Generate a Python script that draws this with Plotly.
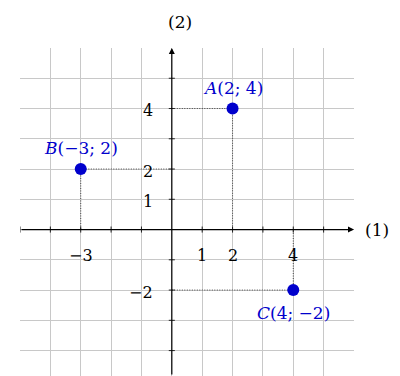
import plotly.graph_objects as go

# points
point_names = ["A", "B", "C"]
point_x = [2, -3, 4]
point_y = [4, 2, -2]

# tick labels drawn next to the axes
x_tick_vals = [-3, 1, 2, 4]
y_tick_vals = [4, 2, 1, -2]

# axis extent
x_min, x_max = -5, 6
y_min, y_max = -4.84, 6
tick_marks = list(range(-5, 6))

BLUE = "#0000CC"
FONT = "DejaVu Serif"


def fmt(v):
    return str(v).replace("-", "\u2212")


fig = go.Figure()

# dotted helper lines from each point to the axes
for px_, py_ in zip(point_x, point_y):
    fig.add_trace(go.Scatter(
        x=[0, px_, px_], y=[py_, py_, 0], mode="lines",
        line=dict(color="#444444", width=1, dash="1px,1.5px"),
        hoverinfo="skip", showlegend=False,
    ))

# small tick marks on both axes
tx, ty = [], []
for t in tick_marks:
    if t == 0:
        continue
    tx += [t, t, None]
    ty += [-0.1, 0.1, None]
    tx += [-0.1, 0.1, None]
    ty += [t, t, None]
fig.add_trace(go.Scatter(
    x=tx, y=ty, mode="lines", line=dict(color="#222222", width=1),
    hoverinfo="skip", showlegend=False,
))

fig.add_trace(go.Scatter(
    x=point_x, y=point_y, mode="markers",
    marker=dict(size=12, color=BLUE),
    hoverinfo="skip", showlegend=False,
))

# axes with arrows
fig.add_annotation(x=x_max, y=0, ax=x_min, ay=0, xref="x", yref="y", axref="x", ayref="y",
                   text="", showarrow=True, arrowhead=2, arrowsize=1, arrowwidth=1.2,
                   arrowcolor="black")
fig.add_annotation(x=0, y=y_max, ax=0, ay=y_min, xref="x", yref="y", axref="x", ayref="y",
                   text="", showarrow=True, arrowhead=2, arrowsize=1, arrowwidth=1.2,
                   arrowcolor="black")
fig.add_annotation(x=x_max, y=0, xshift=23, text="(1)", showarrow=False,
                   font=dict(family=FONT, size=17, color="black"))
fig.add_annotation(x=0.26, y=y_max, yshift=26, text="(2)", showarrow=False,
                   font=dict(family=FONT, size=17, color="black"))

for v in x_tick_vals:
    fig.add_annotation(x=v, y=-0.86, text=fmt(v), showarrow=False,
                       font=dict(family=FONT, size=16, color="black"))
for v in y_tick_vals:
    fig.add_annotation(x=-0.55, y=v - 0.07, text=fmt(v), showarrow=False, xanchor="right",
                       font=dict(family=FONT, size=16, color="black"))

# point labels
for n, px_, py_ in zip(point_names, point_x, point_y):
    shift = -23 if py_ < 0 else 21
    fig.add_annotation(x=px_, y=py_, yshift=shift, showarrow=False,
                       text=f"<i>{n}</i>({fmt(px_)}; {fmt(py_)})",
                       font=dict(family=FONT, size=17, color=BLUE))

grid = dict(showgrid=True, gridcolor="#c8c8c8", gridwidth=1, dtick=1, tick0=0,
            zeroline=False, showticklabels=False, ticks="", showline=False, fixedrange=True)
fig.update_xaxes(range=[x_min, x_max], **grid)
fig.update_yaxes(range=[y_min, y_max], **grid)
fig.update_layout(
    width=392, height=368,
    margin=dict(l=12, r=46, t=40, b=0),
    plot_bgcolor="white", paper_bgcolor="white",
    showlegend=False,
)

fig.write_html("out.html")
